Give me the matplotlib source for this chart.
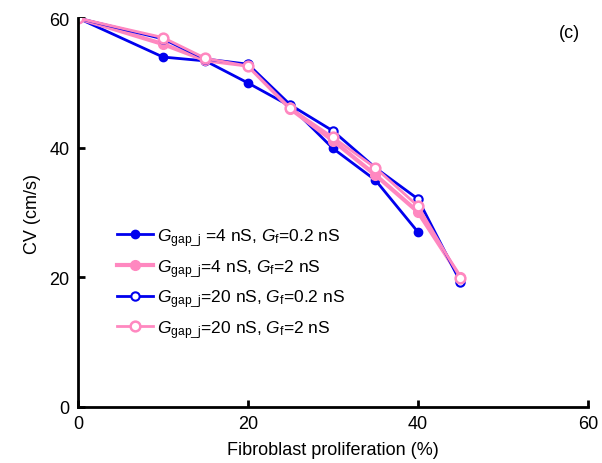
import matplotlib
matplotlib.use("Agg")
import matplotlib.pyplot as plt

plt.rcParams["font.family"] = ["Liberation Sans", "DejaVu Sans"]
plt.rcParams["mathtext.fontset"] = "custom"
plt.rcParams["mathtext.rm"] = "Liberation Sans"
plt.rcParams["mathtext.it"] = "Liberation Sans:italic"

# Datos
x_a = [0, 10, 15, 20, 25, 30, 35, 40]
x_b = [0, 10, 15, 20, 25, 30, 35, 40, 45]
cv_4_02 = [60, 54.0, 53.4, 50.0, 46.4, 39.9, 35.0, 27.0]
cv_4_2 = [60, 56.0, 53.5, 52.7, 46.0, 41.1, 35.8, 30.1, 20.0]
cv_20_02 = [60, 56.8, 53.7, 52.9, 46.6, 42.6, 36.9, 32.1, 19.3]
cv_20_2 = [60, 57.0, 53.8, 52.6, 46.1, 41.6, 36.9, 31.0, 19.9]

labels = [r"$G_{\mathrm{gap\_j}}$ =4 nS, $G_{\mathrm{f}}$=0.2 nS",
          r"$G_{\mathrm{gap\_j}}$=4 nS, $G_{\mathrm{f}}$=2 nS",
          r"$G_{\mathrm{gap\_j}}$=20 nS, $G_{\mathrm{f}}$=0.2 nS",
          r"$G_{\mathrm{gap\_j}}$=20 nS, $G_{\mathrm{f}}$=2 nS"]

blue = "#0000ee"
pink = "#ff88c0"

fig = plt.figure(figsize=(6.02, 4.64), dpi=100)
ax = fig.add_axes([0.1296, 0.1207, 0.847, 0.838])

ax.plot(x_a, cv_4_02, color=blue, lw=2, marker="o", ms=6, mfc=blue, mec=blue, label=labels[0])
ax.plot(x_b, cv_4_2, color=pink, lw=3, marker="o", ms=7, mfc=pink, mec=pink, label=labels[1])
ax.plot(x_b, cv_20_02, color=blue, lw=2, marker="o", ms=6, mfc="white", mec=blue, mew=1.5, label=labels[2])
ax.plot(x_b, cv_20_2, color=pink, lw=2, marker="o", ms=7, mfc="white", mec=pink, mew=1.8, label=labels[3])

ax.set_xlim(0, 60)
ax.set_ylim(0, 60)
ax.set_xticks([0, 20, 40, 60])
ax.set_yticks([0, 20, 40, 60])
ax.tick_params(direction="in", length=5, width=2, labelsize=13, pad=6)
for s in ["top", "right"]:
    ax.spines[s].set_visible(False)
for s in ["left", "bottom"]:
    ax.spines[s].set_linewidth(2)

ax.set_xlabel("Fibroblast proliferation (%)", fontsize=13, labelpad=6)
ax.set_ylabel("CV (cm/s)", fontsize=13, labelpad=6)
ax.text(0.985, 0.985, "(c)", transform=ax.transAxes, fontsize=13, ha="right", va="top")

ax.legend(loc="upper left", bbox_to_anchor=(0.045, 0.505), frameon=False, fontsize=12.5,
          handlelength=2.1, handletextpad=0.2, labelspacing=0.5)

plt.savefig("out.png", dpi=100)
